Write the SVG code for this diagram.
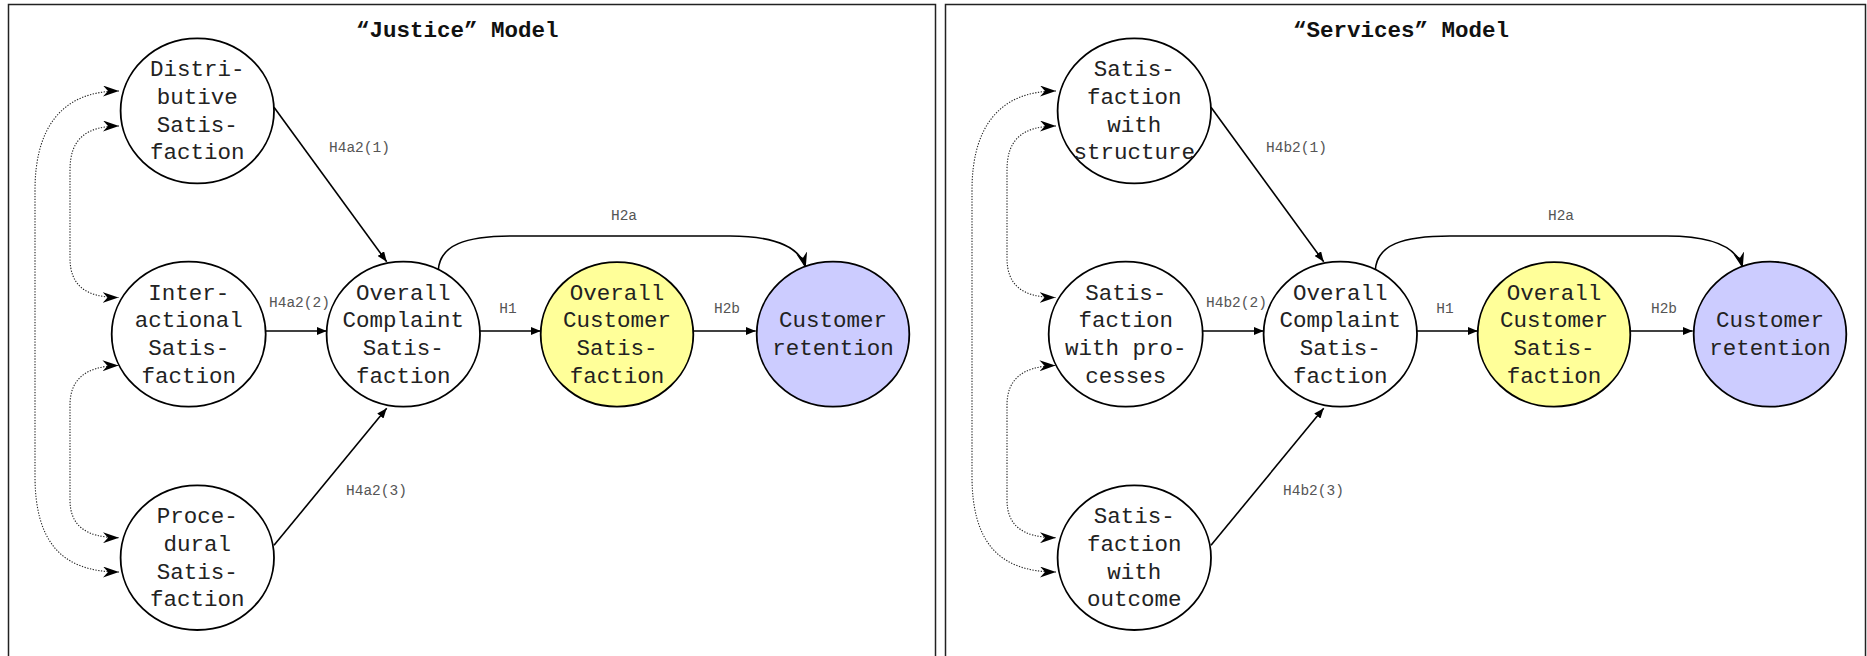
<svg xmlns="http://www.w3.org/2000/svg" width="1867" height="656" viewBox="0 0 1867 656">
<style>
.panel{fill:none;stroke:#222;stroke-width:1.5}
.title{font-family:"Liberation Mono","Courier New",monospace;font-size:22.5px;font-weight:bold;fill:#111}
.node ellipse{stroke:#000;stroke-width:1.8}
.n{fill:#fff}
.y{fill:#ffff99}
.b{fill:#ccccff}
.node text{font-family:"Liberation Mono","Courier New",monospace;font-size:22.5px;fill:#222;text-anchor:middle}
.lbl{font-family:"Liberation Mono","Courier New",monospace;font-size:14.5px;fill:#555}
.mid{text-anchor:middle}
.arr{fill:none;stroke:#000;stroke-width:1.6}
.dot{fill:none;stroke:#222;stroke-width:1.1;stroke-dasharray:1.3 1.5}
</style>
<defs>
<marker id="tri" viewBox="0 0 10 8" refX="10" refY="4" markerWidth="10" markerHeight="8" markerUnits="userSpaceOnUse" orient="auto"><path d="M0,0 L10,4 L0,8 z" fill="#000"/></marker>
<marker id="vee" viewBox="0 0 16 11" refX="16" refY="5.5" markerWidth="16" markerHeight="11" markerUnits="userSpaceOnUse" orient="auto-start-reverse"><path d="M0,0 L16,5.5 L0,11 L5,5.5 z" fill="#000"/></marker>
</defs>

<g id="left-panel">
<rect class="panel" x="8.5" y="4.5" width="927" height="700"/>
<text class="title" x="356" y="37.3">“Justice” Model</text>
<g id="connectors-left">
<path class="dot" d="M119,91 C60,91 35,130 35,190 L35,476 C35,540 60,572 119,572" marker-start="url(#vee)" marker-end="url(#vee)"/>
<path class="dot" d="M119,126 C85,126 70,140 70,170 L70,258 C70,285 85,297.5 118.5,297.5" marker-start="url(#vee)" marker-end="url(#vee)"/>
<path class="dot" d="M118.5,365.5 C85,366 70,380 70,405 L70,500 C70,525 85,537.7 119,537.7" marker-start="url(#vee)" marker-end="url(#vee)"/>
<path class="arr" d="M274,107.3 L386.7,261.7" marker-end="url(#tri)"/>
<path class="arr" d="M265.7,331 L326.7,331" marker-end="url(#tri)"/>
<path class="arr" d="M274,545.3 L386.7,408.3" marker-end="url(#tri)"/>
<path class="arr" d="M480,331 L540.7,331" marker-end="url(#tri)"/>
<path class="arr" d="M693.3,331 L755.7,331" marker-end="url(#tri)"/>
<path class="arr" d="M438.3,270 C440,245 465,236 513,236 L730,236 C775,236 800,246 805.7,268.3" marker-end="url(#vee)"/>
<text class="lbl" x="329" y="151.7">H4a2(1)</text>
<text class="lbl" x="269" y="306.7">H4a2(2)</text>
<text class="lbl" x="346" y="495.3">H4a2(3)</text>
<text class="lbl mid" x="624" y="220">H2a</text>
<text class="lbl mid" x="508" y="313.3">H1</text>
<text class="lbl mid" x="727" y="313.3">H2b</text>
</g>
<g id="distributive" class="node">
<ellipse class="n" cx="197.3" cy="110.8" rx="76.7" ry="72.5"/>
<text><tspan x="197.3" y="76.2">Distri-</tspan><tspan x="197.3" y="103.9">butive</tspan><tspan x="197.3" y="131.6">Satis-</tspan><tspan x="197.3" y="159.3">faction</tspan></text>
</g>
<g id="interactional" class="node">
<ellipse class="n" cx="188.7" cy="334.2" rx="77" ry="72.5"/>
<text><tspan x="188.7" y="299.6">Inter-</tspan><tspan x="188.7" y="327.3">actional</tspan><tspan x="188.7" y="355">Satis-</tspan><tspan x="188.7" y="382.7">faction</tspan></text>
</g>
<g id="procedural" class="node">
<ellipse class="n" cx="197.3" cy="557.7" rx="76.7" ry="72.3"/>
<text><tspan x="197.3" y="523.1">Proce-</tspan><tspan x="197.3" y="550.8">dural</tspan><tspan x="197.3" y="578.5">Satis-</tspan><tspan x="197.3" y="606.2">faction</tspan></text>
</g>
<g id="complaint-left" class="node">
<ellipse class="n" cx="403.3" cy="334.2" rx="76.7" ry="72.5"/>
<text><tspan x="403.3" y="299.6">Overall</tspan><tspan x="403.3" y="327.3">Complaint</tspan><tspan x="403.3" y="355">Satis-</tspan><tspan x="403.3" y="382.7">faction</tspan></text>
</g>
<g id="customer-sat-left" class="node">
<ellipse class="y" cx="617" cy="334.4" rx="76.3" ry="72.3"/>
<text><tspan x="617" y="299.6">Overall</tspan><tspan x="617" y="327.3">Customer</tspan><tspan x="617" y="355">Satis-</tspan><tspan x="617" y="382.7">faction</tspan></text>
</g>
<g id="retention-left" class="node">
<ellipse class="b" cx="833" cy="334.2" rx="76.3" ry="72.5"/>
<text><tspan x="833" y="327.3">Customer</tspan><tspan x="833" y="355">retention</tspan></text>
</g>
</g>

<g id="right-panel" transform="translate(937,0)">
<rect class="panel" x="8.5" y="4.5" width="920" height="700"/>
<text class="title" x="356" y="37.3">“Services” Model</text>
<g id="connectors-right">
<path class="dot" d="M119,91 C60,91 35,130 35,190 L35,476 C35,540 60,572 119,572" marker-start="url(#vee)" marker-end="url(#vee)"/>
<path class="dot" d="M119,126 C85,126 70,140 70,170 L70,258 C70,285 85,297.5 118.5,297.5" marker-start="url(#vee)" marker-end="url(#vee)"/>
<path class="dot" d="M118.5,365.5 C85,366 70,380 70,405 L70,500 C70,525 85,537.7 119,537.7" marker-start="url(#vee)" marker-end="url(#vee)"/>
<path class="arr" d="M274,107.3 L386.7,261.7" marker-end="url(#tri)"/>
<path class="arr" d="M265.7,331 L326.7,331" marker-end="url(#tri)"/>
<path class="arr" d="M274,545.3 L386.7,408.3" marker-end="url(#tri)"/>
<path class="arr" d="M480,331 L540.7,331" marker-end="url(#tri)"/>
<path class="arr" d="M693.3,331 L755.7,331" marker-end="url(#tri)"/>
<path class="arr" d="M438.3,270 C440,245 465,236 513,236 L730,236 C775,236 800,246 805.7,268.3" marker-end="url(#vee)"/>
<text class="lbl" x="329" y="151.7">H4b2(1)</text>
<text class="lbl" x="269" y="306.7">H4b2(2)</text>
<text class="lbl" x="346" y="495.3">H4b2(3)</text>
<text class="lbl mid" x="624" y="220">H2a</text>
<text class="lbl mid" x="508" y="313.3">H1</text>
<text class="lbl mid" x="727" y="313.3">H2b</text>
</g>
<g id="structure" class="node">
<ellipse class="n" cx="197.3" cy="110.8" rx="76.7" ry="72.5"/>
<text><tspan x="197.3" y="76.2">Satis-</tspan><tspan x="197.3" y="103.9">faction</tspan><tspan x="197.3" y="131.6">with</tspan><tspan x="197.3" y="159.3">structure</tspan></text>
</g>
<g id="processes" class="node">
<ellipse class="n" cx="188.7" cy="334.2" rx="77" ry="72.5"/>
<text><tspan x="188.7" y="299.6">Satis-</tspan><tspan x="188.7" y="327.3">faction</tspan><tspan x="188.7" y="355">with pro-</tspan><tspan x="188.7" y="382.7">cesses</tspan></text>
</g>
<g id="outcome" class="node">
<ellipse class="n" cx="197.3" cy="557.7" rx="76.7" ry="72.3"/>
<text><tspan x="197.3" y="523.1">Satis-</tspan><tspan x="197.3" y="550.8">faction</tspan><tspan x="197.3" y="578.5">with</tspan><tspan x="197.3" y="606.2">outcome</tspan></text>
</g>
<g id="complaint-right" class="node">
<ellipse class="n" cx="403.3" cy="334.2" rx="76.7" ry="72.5"/>
<text><tspan x="403.3" y="299.6">Overall</tspan><tspan x="403.3" y="327.3">Complaint</tspan><tspan x="403.3" y="355">Satis-</tspan><tspan x="403.3" y="382.7">faction</tspan></text>
</g>
<g id="customer-sat-right" class="node">
<ellipse class="y" cx="617" cy="334.4" rx="76.3" ry="72.3"/>
<text><tspan x="617" y="299.6">Overall</tspan><tspan x="617" y="327.3">Customer</tspan><tspan x="617" y="355">Satis-</tspan><tspan x="617" y="382.7">faction</tspan></text>
</g>
<g id="retention-right" class="node">
<ellipse class="b" cx="833" cy="334.2" rx="76.3" ry="72.5"/>
<text><tspan x="833" y="327.3">Customer</tspan><tspan x="833" y="355">retention</tspan></text>
</g>
</g>
</svg>
